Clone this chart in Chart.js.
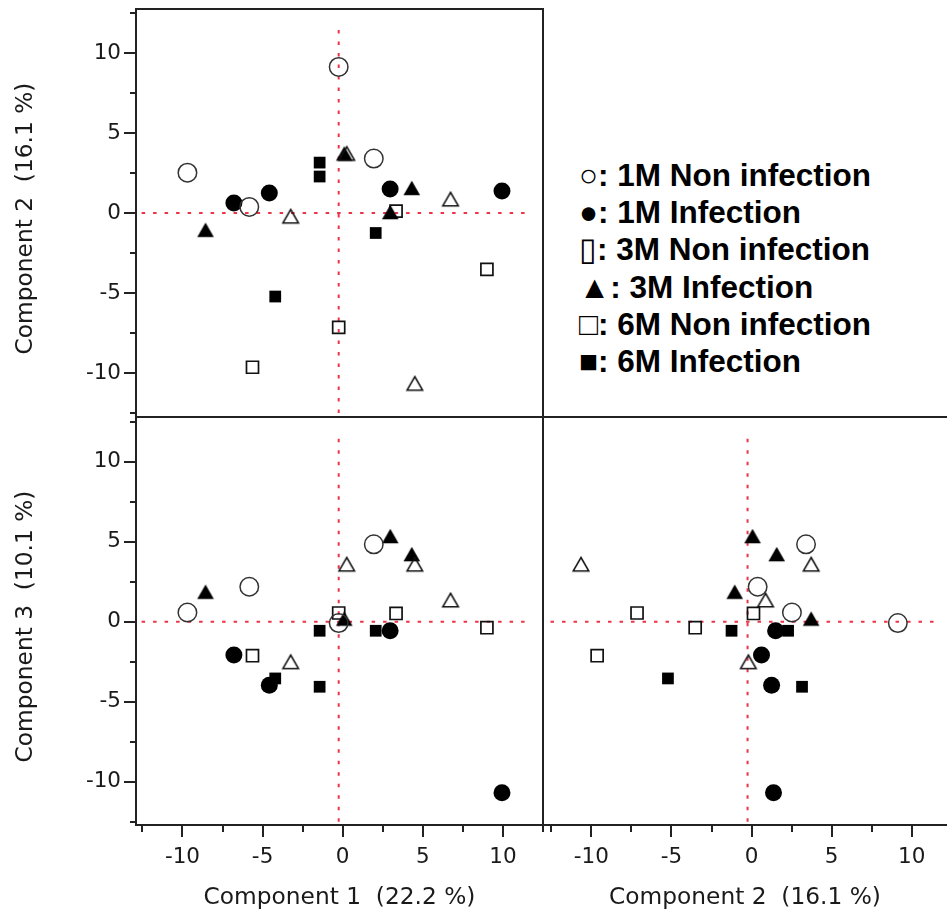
<!DOCTYPE html>
<html>
<head>
<meta charset="utf-8">
<script src="https://cdn.jsdelivr.net/npm/chart.js@4.4.1/dist/chart.umd.min.js"></script>
<style>
  html, body { margin: 0; padding: 0; background: #fff; }
  #wrap { position: relative; width: 947px; height: 919px; overflow: hidden; background: #fff; }
  #wrap canvas { position: absolute; }
  #legend { position: absolute; left: 579px; top: 157px; font-family: "Liberation Sans", Arial, sans-serif;
            font-weight: bold; font-size: 31.5px; line-height: 37.2px; color: #000; white-space: nowrap; }
  #legend .thin { font-weight: normal; }
</style>
</head>
<body>
<div id="wrap">
  <canvas id="c1" width="545" height="419" style="left:0;top:0;width:545px;height:419px"></canvas>
  <canvas id="c2" width="545" height="519" style="left:0;top:400px;width:545px;height:519px"></canvas>
  <canvas id="c3" width="406" height="519" style="left:541px;top:400px;width:406px;height:519px"></canvas>
  <div id="legend"></div>
</div>
<script>
// ---------------- data ----------------
const groupNames = ['1M Non infection', '1M Infection', '3M Non infection', '3M Infection', '6M Non infection', '6M Infection'];
const sampleGroup = [0,0,0,0, 1,1,1,1, 2,2,2,2, 3,3,3,3, 4,4,4,4, 5,5,5,5];
const comp1 = [-9.69, -5.83, -0.25, 1.94,   -6.79, -4.58, 2.96, 9.94,   -3.25, 0.25, 6.73, 4.50,   -8.56, 0.10, 2.97, 4.31,   -0.25, 3.33, 9.00, -5.63,   -1.44, -1.44, 2.06, -4.21];
const comp2 = [ 2.52,  0.38, 9.13, 3.40,    0.62,  1.25, 1.50, 1.37,   -0.20, 3.72, 0.87, -10.65, -1.05, 3.72, 0.06, 1.57,   -7.15, 0.12, -3.52, -9.64,   3.15, 2.28, -1.25, -5.22];
const comp3 = [ 0.58,  2.19, -0.08, 4.84,  -2.08, -3.96, -0.56, -10.69, -2.50, 3.60, 1.36, 3.60,    1.88, 0.20, 5.36, 4.23,    0.55, 0.52, -0.37, -2.12,   -4.06, -0.56, -0.56, -3.54];
const axisTitles = ['Component 1  (22.2 %)', 'Component 2  (16.1 %)', 'Component 3  (10.1 %)'];
const tickValues = [-10, -5, 0, 5, 10];
const minorTickValues = [-12.5, -7.5, -2.5, 2.5, 7.5, 12.5];
const refZeroH = 0;          // horizontal reference line value
const refZeroV = -0.25;      // vertical reference line value (as drawn)
const refHSpan = [-12.55, 11.7];
const refVSpan = [-12.5, 11.8];
const legendSymbols = ['○', '●', '▯', '▲', '□', '■'];
const legendLabels = [': 1M Non infection', ': 1M Infection', ': 3M Non infection', ': 3M Infection', ': 6M Non infection', ': 6M Infection'];

// ---------------- legend (text) ----------------
const legendEl = document.getElementById('legend');
legendLabels.forEach((t, i) => {
  const d = document.createElement('div');
  const s = document.createElement('span');
  s.textContent = legendSymbols[i];
  if (legendSymbols[i] === '▯') s.className = 'thin';
  d.appendChild(s);
  d.appendChild(document.createTextNode(t));
  legendEl.appendChild(d);
});

// ---------------- marker styles ----------------
function triangleCanvas(filled) {
  const c = document.createElement('canvas');
  c.width = 22; c.height = 22;
  const g = c.getContext('2d');
  const hw = filled ? 8.3 : 7.8, h = filled ? 14.4 : 13.5;
  g.beginPath();
  g.moveTo(11, 11 - h / 2);
  g.lineTo(11 + hw, 11 + h / 2);
  g.lineTo(11 - hw, 11 + h / 2);
  g.closePath();
  if (filled) { g.fillStyle = '#000'; g.fill(); }
  else { g.lineWidth = 1.5; g.strokeStyle = '#111'; g.stroke(); }
  return c;
}
const openTri = triangleCanvas(false), fillTri = triangleCanvas(true);
const groupStyle = [
  { pointStyle: 'circle', pointRadius: 9.25, pointBorderWidth: 1.5, pointBorderColor: '#333', pointBackgroundColor: 'rgba(0,0,0,0)' },
  { pointStyle: 'circle', pointRadius: 8.5, pointBorderWidth: 0, pointBorderColor: '#000', pointBackgroundColor: '#000' },
  { pointStyle: openTri, pointRadius: 9, pointBorderWidth: 0, pointBackgroundColor: 'rgba(0,0,0,0)' },
  { pointStyle: fillTri, pointRadius: 9, pointBorderWidth: 0, pointBackgroundColor: 'rgba(0,0,0,0)' },
  { pointStyle: 'rect', pointRadius: 8.5, pointBorderWidth: 1.7, pointBorderColor: '#111', pointBackgroundColor: 'rgba(0,0,0,0)' },
  { pointStyle: 'rect', pointRadius: 8.3, pointBorderWidth: 0, pointBorderColor: '#000', pointBackgroundColor: '#000' }
];

const TITLE_FONT = '23.3px "DejaVu Sans"';
const TEXT_COLOR = '#1a1a1a';

// ---------------- plugin: frame, minor ticks, vertical axis title ----------------
const framePlugin = {
  id: 'frame',
  afterDraw(chart, args, opts) {
    const ctx = chart.ctx, a = chart.chartArea;
    ctx.save();
    ctx.strokeStyle = '#222'; ctx.lineWidth = 2; ctx.lineCap = 'butt';
    ctx.beginPath();
    (opts.sides || []).forEach(s => {
      if (s === 'top') { ctx.moveTo(a.left - 1, a.top); ctx.lineTo(a.right + 1, a.top); }
      if (s === 'bottom') { ctx.moveTo(a.left - 1, a.bottom); ctx.lineTo(a.right + 1, a.bottom); }
      if (s === 'left') { ctx.moveTo(a.left, a.top - 1); ctx.lineTo(a.left, a.bottom + 1); }
      if (s === 'right') { ctx.moveTo(a.right, a.top - 1); ctx.lineTo(a.right, a.bottom + 1); }
    });
    ctx.stroke();
    ctx.beginPath();
    ['x', 'y'].forEach(id => {
      const sc = chart.scales[id];
      if (!sc.options.display) return;
      minorTickValues.forEach(v => {
        if (v < sc.min || v > sc.max) return;
        const p = Math.round(sc.getPixelForValue(v));
        if (sc.isHorizontal()) { ctx.moveTo(p, a.bottom); ctx.lineTo(p, a.bottom + 7); }
        else { ctx.moveTo(a.left, p); ctx.lineTo(a.left - 6, p); }
      });
    });
    ctx.stroke();
    // rotated title of the vertical axis
    const ys = chart.scales.y;
    if (ys.options.display && opts.yTitle) {
      ctx.translate(25.5, (ys.top + ys.bottom) / 2 + 5.5);
      ctx.rotate(-Math.PI / 2);
      ctx.font = TITLE_FONT; ctx.fillStyle = TEXT_COLOR;
      ctx.textAlign = 'center'; ctx.textBaseline = 'middle';
      ctx.fillText(opts.yTitle, 0, 0);
    }
    ctx.restore();
  }
};

// ---------------- chart builder ----------------
function axis(o) {
  return {
    type: 'linear', min: o.min, max: o.max, display: o.display, position: o.position,
    afterBuildTicks: s => { s.ticks = tickValues.map(v => ({ value: v })); },
    afterFit: s => {
      s.paddingTop = 0; s.paddingBottom = 0; s.paddingLeft = 0; s.paddingRight = 0;
      if (!o.display) { s.width = 0; s.height = 0; return; }
      if (o.position === 'left') s.width = 136; else s.height = 94;
    },
    grid: { display: true, drawOnChartArea: false, drawTicks: true, tickLength: 12,
            color: '#222', lineWidth: 2, tickColor: '#222', tickWidth: 2 },
    border: { display: true, color: '#222', width: 2 },
    ticks: { font: { family: 'DejaVu Sans', size: 21.5 }, color: TEXT_COLOR, padding: o.position === 'left' ? 3 : 8,
             maxRotation: 0, autoSkip: false, callback: v => String(v) },
    title: { display: o.position !== 'left', text: o.title, color: TEXT_COLOR, font: { family: 'DejaVu Sans', size: 23.3 },
             padding: { top: 0, bottom: 7 } }
  };
}

function build(canvasId, xs, ys, xAxis, yAxis, padding, sides) {
  const datasets = groupNames.map((name, g) => {
    const pts = [];
    sampleGroup.forEach((sg, i) => { if (sg === g) pts.push({ x: xs[i], y: ys[i] }); });
    return Object.assign({ label: name, data: pts, showLine: false }, groupStyle[g]);
  });
  const refStyle = { showLine: true, pointRadius: 0, borderColor: '#ee3347', borderWidth: 2, borderDash: [3.5, 8], fill: false };
  datasets.push(Object.assign({ label: 'ref-h', data: [{ x: refHSpan[0], y: refZeroH }, { x: refHSpan[1], y: refZeroH }] }, refStyle));
  datasets.push(Object.assign({ label: 'ref-v', data: [{ x: refZeroV, y: refVSpan[0] }, { x: refZeroV, y: refVSpan[1] }] }, refStyle));
  return new Chart(document.getElementById(canvasId), {
    type: 'scatter',
    data: { datasets },
    options: {
      responsive: false, animation: false, events: [],
      layout: { padding, autoPadding: false },
      plugins: { legend: { display: false }, tooltip: { enabled: false },
                 frame: { sides, yTitle: yAxis.display ? yAxis.title : null } },
      scales: { x: axis(xAxis), y: axis(yAxis) }
    },
    plugins: [framePlugin]
  });
}

// Panel 1: Component 1 vs Component 2
build('c1', comp1, comp2,
  { min: -12.9, max: 12.5, display: false, position: 'bottom', title: axisTitles[0] },
  { min: -12.75, max: 12.75, display: true, position: 'left', title: axisTitles[1] },
  { left: 0, top: 9, right: 2, bottom: 2 }, ['top', 'right', 'bottom']);

// Panel 2: Component 1 vs Component 3
build('c2', comp1, comp3,
  { min: -12.9, max: 12.5, display: true, position: 'bottom', title: axisTitles[0] },
  { min: -12.7, max: 12.8, display: true, position: 'left', title: axisTitles[2] },
  { left: 0, top: 17, right: 2, bottom: 0 }, ['top', 'right']);

// Panel 3: Component 2 vs Component 3
build('c3', comp2, comp3,
  { min: -13.02, max: 12.2, display: true, position: 'bottom', title: axisTitles[1] },
  { min: -12.7, max: 12.8, display: false, position: 'left', title: axisTitles[2] },
  { left: 2, top: 17, right: 0, bottom: 0 }, ['top', 'left']);
</script>
</body>
</html>
